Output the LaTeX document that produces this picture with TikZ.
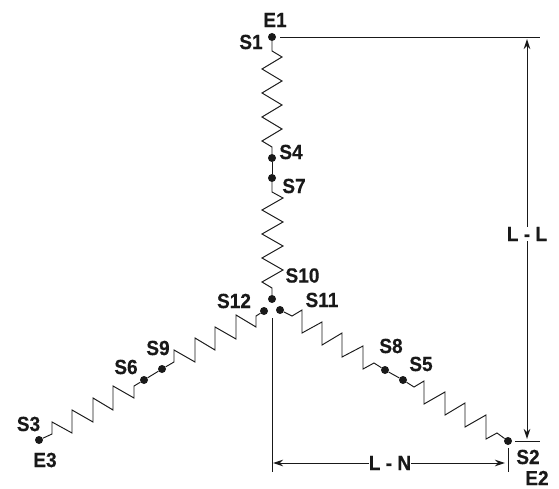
\documentclass[tikz,border=0pt]{standalone}
\usepackage{fontspec}
\setmainfont{Liberation Sans}
\newfontfamily\tagfont{Liberation Sans Bold}[FakeStretch=0.93,FakeBold=0.35]
\usetikzlibrary{arrows.meta}

\tikzset{
  term/.style={circle,fill=black!90,inner sep=0pt,minimum size=8pt},
  tag/.style={font=\tagfont\fontsize{20.5}{20.5}\selectfont,text=black!90,inner sep=0pt},
  wire/.style={draw=black!90,line width=0.95pt},
}

\begin{document}
\begin{tikzpicture}[x=1pt,y=-1pt,>={Stealth[length=10pt,width=6.5pt]}]
  \useasboundingbox (0,0) rectangle (559,489);

  % terminals
  \node[term] (e1) at (272,37) {};
  \node[term] (s4) at (272,158) {};
  \node[term] (s7) at (272,178) {};
  \node[term] (s10) at (272,299) {};
  \node[term] (s12) at (264,311) {};
  \node[term] (s11) at (280,310) {};
  \node[term] (s9) at (162,369) {};
  \node[term] (s6) at (144,380) {};
  \node[term] (e3) at (39,440) {};
  \node[term] (s8) at (385,370) {};
  \node[term] (s5) at (403,380) {};
  \node[term] (e2) at (508,441) {};

  % windings
  \draw[wire] (e1) -- (272,51) -- (282,57) -- (262,69) -- (282,81) -- (262,93) -- (282,105)
    -- (262,117) -- (282,129) -- (262,141) -- (272,147) -- (s4);
  \draw[wire] (s4) -- (s7);
  \draw[wire] (s7) -- (272,192) -- (283,198) -- (262,210) -- (283,222) -- (262,234) -- (283,246)
    -- (262,258) -- (283,270) -- (262,282) -- (272,288) -- (s10);
  \draw[wire] (s12) -- (256,316) -- (256,327) -- (236,315) -- (236,339) -- (215,327) -- (215,350)
    -- (195,338) -- (195,362) -- (174,350) -- (174,362) -- (s9);
  \draw[wire] (s9) -- (s6);
  \draw[wire] (s6) -- (134,386) -- (134,398) -- (113,386) -- (113,410) -- (93,398) -- (93,422)
    -- (72,410) -- (72,433) -- (52,422) -- (52,434) -- (e3);
  \draw[wire] (s11) -- (292,316) -- (302,310) -- (302,333) -- (322,322) -- (322,345) -- (342,333)
    -- (342,357) -- (363,346) -- (363,369) -- (374,363) -- (s8);
  \draw[wire] (s8) -- (s5);
  \draw[wire] (s5) -- (414,387) -- (424,381) -- (424,404) -- (445,392) -- (445,415) -- (465,403)
    -- (465,427) -- (486,415) -- (486,439) -- (497,433) -- (e2);

  % labels
  \node[tag] (e1t) at (275,20) {E1};
  \node[tag] (s1t) at (251,42) {S1};
  \node[tag] (s4t) at (291,152) {S4};
  \node[tag] (s7t) at (294,186) {S7};
  \node[tag] (s10t) at (302.5,275.5) {S10};
  \node[tag] (s12t) at (234,301) {S12};
  \node[tag] (s11t) at (322,300) {S11};
  \node[tag] (s9t) at (158,348) {S9};
  \node[tag] (s6t) at (126,367) {S6};
  \node[tag] (s3t) at (28.5,424) {S3};
  \node[tag] (e3t) at (45,460) {E3};
  \node[tag] (s8t) at (391,346) {S8};
  \node[tag] (s5t) at (421,364) {S5};
  \node[tag] (s2t) at (528,457) {S2};
  \node[tag] (e2t) at (537,478) {E2};

  % measuring lines
  \coordinate (topa) at (280,37);
  \coordinate (topb) at (540,37);
  \coordinate (bota) at (515,441);
  \coordinate (botb) at (540,441);
  \coordinate (neua) at (272,318);
  \coordinate (neub) at (272,472);
  \coordinate (enda) at (508,448);
  \coordinate (endb) at (508,472);
  \draw[wire] (topa) -- (topb);
  \draw[wire] (bota) -- (botb);
  \draw[wire] (neua) -- (neub);
  \draw[wire] (enda) -- (endb);

  \node[tag] (ll) at (527,234) {L - L};
  \node[tag] (ln) at (390,463) {L - N};
  \coordinate (llup) at (527,39);
  \coordinate (lldn) at (527,439);
  \coordinate (lnl) at (273,463);
  \coordinate (lnr) at (505,463);
  \draw[wire,->] (ll) -- (llup);
  \draw[wire,->] (ll) -- (lldn);
  \draw[wire,->] (ln) -- (lnl);
  \draw[wire,->] (ln) -- (lnr);
\end{tikzpicture}
\end{document}
